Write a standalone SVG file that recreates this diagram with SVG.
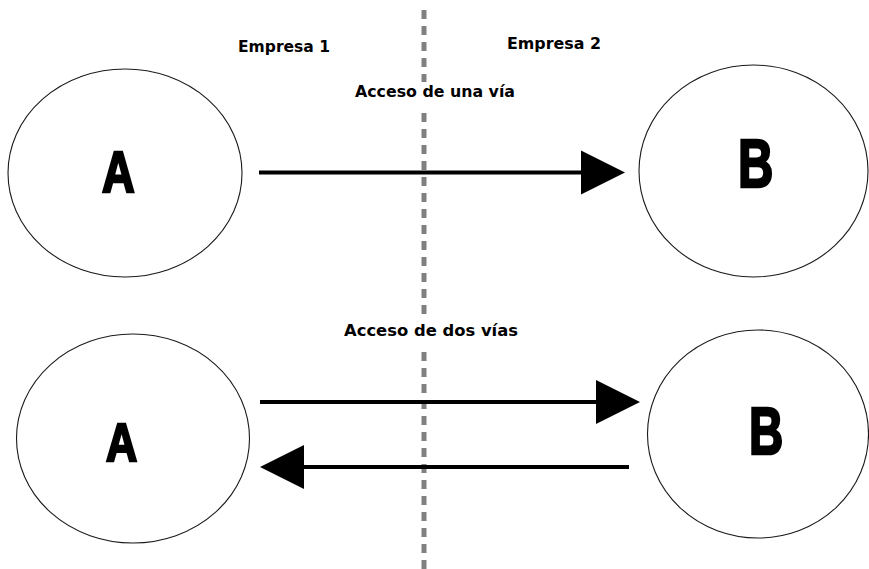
<svg xmlns="http://www.w3.org/2000/svg" width="869" height="569" viewBox="0 0 869 569">
  <style>
    .node { fill: #ffffff; stroke: #1a1a1a; stroke-width: 1.1; }
    .big { font-family: "Liberation Sans", Arial, sans-serif; font-weight: bold; fill: #000; stroke: #000; stroke-width: 2.5; stroke-linejoin: miter; }
    .lbl { font-family: "DejaVu Sans", Verdana, sans-serif; font-weight: bold; font-size: 15.5px; fill: #000; }
    .wire { stroke: #000; stroke-width: 4; fill: none; }
    .head { fill: #000; }
    .divider { stroke: #808080; stroke-width: 5; stroke-dasharray: 9 7; fill: none; }
  </style>

  <rect width="869" height="569" fill="#ffffff"/>

  <!-- company boundary -->
  <g id="divider">
    <line class="divider" x1="424" y1="10" x2="424" y2="82"/>
    <line class="divider" x1="424" y1="113" x2="424" y2="316"/>
    <line class="divider" x1="424" y1="352" x2="424" y2="569"/>
  </g>

  <!-- headings -->
  <text class="lbl" x="238" y="52" textLength="92" lengthAdjust="spacingAndGlyphs">Empresa 1</text>
  <text class="lbl" x="507" y="49" textLength="94" lengthAdjust="spacingAndGlyphs">Empresa 2</text>
  <text class="lbl" x="355" y="97" textLength="160" lengthAdjust="spacingAndGlyphs">Acceso de una vía</text>
  <text class="lbl" x="344" y="336" textLength="174" lengthAdjust="spacingAndGlyphs">Acceso de dos vías</text>

  <!-- one-way access -->
  <g id="node-a1">
    <ellipse class="node" cx="125" cy="173" rx="117" ry="104"/>
    <text class="big" font-size="58" transform="translate(102,192) scale(0.78,1)">A</text>
  </g>
  <g id="node-b1">
    <ellipse class="node" cx="753.5" cy="171" rx="114.5" ry="106"/>
    <text class="big" font-size="68" transform="translate(738,187) scale(0.72,1)">B</text>
  </g>

  <!-- two-way access -->
  <g id="node-a2">
    <ellipse class="node" cx="133" cy="438.5" rx="116.5" ry="104.5"/>
    <text class="big" font-size="54" transform="translate(106,461) scale(0.8,1)">A</text>
  </g>
  <g id="node-b2">
    <ellipse class="node" cx="758" cy="434" rx="110.5" ry="104"/>
    <text class="big" font-size="66" transform="translate(749,454) scale(0.72,1)">B</text>
  </g>

  <g id="connectors">
    <line class="wire" x1="259" y1="172.5" x2="590" y2="172.5"/>
    <polygon class="head" points="581,150.5 625,172.5 581,194.5"/>

    <line class="wire" x1="260" y1="402" x2="605" y2="402"/>
    <polygon class="head" points="596,380 640,402 596,424"/>

    <line class="wire" x1="629" y1="467" x2="295" y2="467"/>
    <polygon class="head" points="304,445 260,467 304,489"/>
  </g>
</svg>
